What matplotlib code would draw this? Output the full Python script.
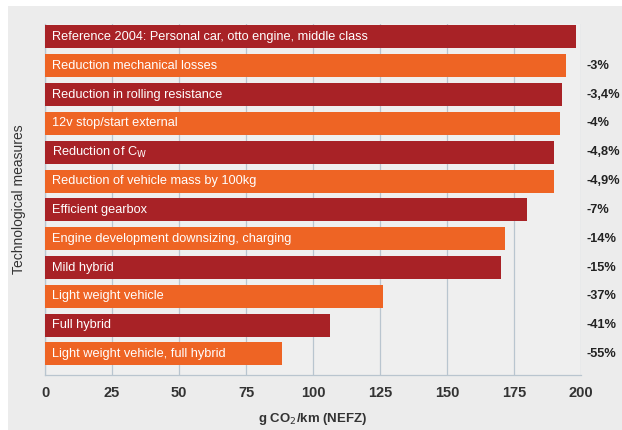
import matplotlib.pyplot as plt
from matplotlib.patches import Rectangle

# Data
measures = [
    'Reference 2004: Personal car, otto engine, middle class',
    'Reduction mechanical losses',
    'Reduction in rolling resistance',
    '12v stop/start external',
    'Reduction of C$_\\mathrm{W}$',
    'Reduction of vehicle mass by 100kg',
    'Efficient gearbox',
    'Engine development downsizing, charging',
    'Mild hybrid',
    'Light weight vehicle',
    'Full hybrid',
    'Light weight vehicle, full hybrid',
]
co2_values = [198, 194.5, 193, 192, 190, 190, 180, 171.5, 170, 126, 106.5, 88.5]
reductions = ['', '-3%', '-3,4%', '-4%', '-4,8%', '-4,9%', '-7%', '-14%', '-15%', '-37%', '-41%', '-55%']
x_ticks = [0, 25, 50, 75, 100, 125, 150, 175, 200]

dark_red = '#a82226'
orange = '#ee6424'
bg = '#ececec'
grid_col = '#b9c5cf'

plt.rcParams['font.family'] = ['Liberation Sans Narrow', 'Liberation Sans', 'DejaVu Sans']

fig = plt.figure(figsize=(6.22, 4.3), dpi=100)
fig.patch.set_facecolor('white')
# grey panel behind the chart
fig.patches.append(Rectangle((8 / 622, 0), 1, 1 - 6 / 430, transform=fig.transFigure,
                             facecolor=bg, edgecolor='none', zorder=-10))

ax = fig.add_axes([45 / 622, 1 - 375 / 430, 536 / 622, 351 / 430])
ax.set_facecolor('#efefef')

colors = [dark_red if i % 2 == 0 else orange for i in range(len(measures))]
ypos = list(range(len(measures)))
ax.barh(ypos, co2_values, height=0.8, color=colors, zorder=3)

for y, label in zip(ypos, measures):
    ax.text(2.6, y, label, color='white', fontsize=9.2, va='center', ha='left', zorder=4)

for y, r in zip(ypos, reductions):
    if r:
        ax.text(1.01, y, r, transform=ax.get_yaxis_transform(), fontsize=9.2,
                fontweight='bold', color='#222222', va='center', ha='left', clip_on=False)

ax.set_xlim(0, 200)
ax.set_ylim(11.73, -0.45)
ax.set_xticks(x_ticks)
ax.set_xticklabels([str(t) for t in x_ticks], fontsize=10.5, fontweight='bold', color='#333333')
ax.set_yticks([])
ax.tick_params(axis='x', length=0, pad=8)
ax.xaxis.grid(True, color=grid_col, linewidth=0.9, zorder=0)

for side in ['top', 'right']:
    ax.spines[side].set_visible(False)
for side in ['left', 'bottom']:
    ax.spines[side].set_color(grid_col)
    ax.spines[side].set_linewidth(0.9)

ax.set_xlabel('g CO$_2$/km (NEFZ)', fontsize=9.5, fontweight='bold', color='#333333', labelpad=8)
ax.set_ylabel('Technological measures', fontsize=10, color='#333333', labelpad=14)

fig.savefig('out.png', dpi=100, facecolor=fig.get_facecolor())
